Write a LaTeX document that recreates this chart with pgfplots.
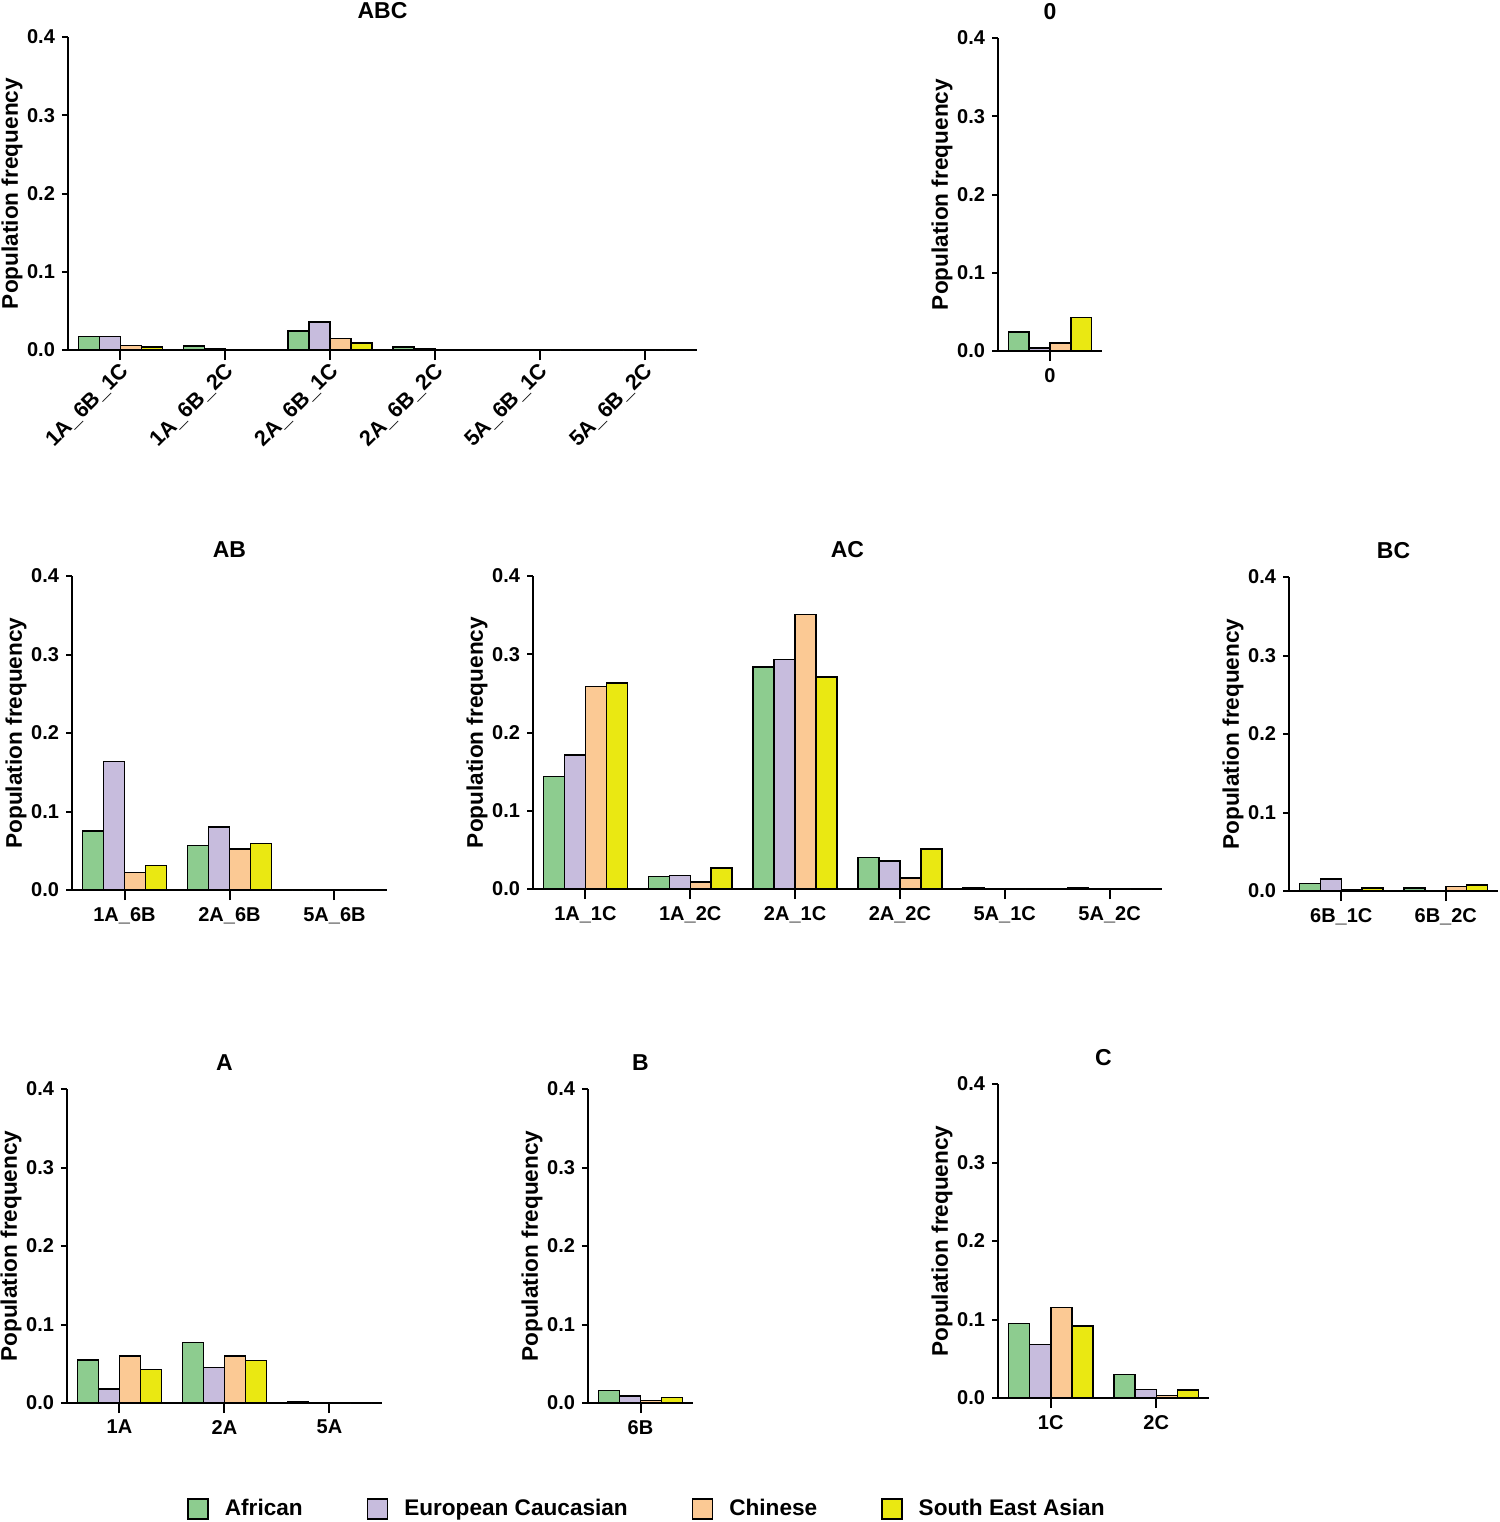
\documentclass[border=0pt]{standalone}
\usepackage{fontspec}
\setmainfont{Liberation Sans}
\usepackage{pgfplots}
\pgfplotsset{compat=1.18}
\definecolor{cAf}{RGB}{141,204,143}
\definecolor{cEu}{RGB}{199,188,221}
\definecolor{cCh}{RGB}{251,201,148}
\definecolor{cSE}{RGB}{234,232,18}
\newcommand\ft{\fontsize{10}{12}\selectfont\bfseries}
\newcommand\fr{\fontsize{10.8}{12}\selectfont\bfseries}
\newcommand\ff{\fontsize{11.3}{13}\selectfont\bfseries}
\newcommand\fti{\fontsize{11.5}{13}\selectfont\bfseries}
\pgfplotsset{
  panel/.style={
    scale only axis,
    ymin=0, ymax=0.4,
    ytick={0,0.1,0.2,0.3,0.4},
    yticklabels={0.0,0.1,0.2,0.3,0.4},
    axis x line*=bottom, axis y line*=left,
    axis line style={line width=1pt, black},
    tick style={line width=1pt, black},
    tick align=outside,
    major tick length=3pt,
    xtick style={/pgfplots/major tick length=5pt},
    ybar, bar width=0.2,
    tick label style={font=\ft},
    xticklabel style={yshift=-2pt},
    ylabel={Population frequency},
    ylabel style={at={(axis description cs:0,0.5)}, anchor=center, yshift=28pt, font=\ff},
    title style={at={(axis description cs:0.5,1)}, anchor=center, yshift=7pt, font=\fti},
    every axis plot/.append style={draw=black, line width=0.75pt},
    xmin=-0.5,
  }
}
\newcommand\fourbars[4]{%
  \addplot[fill=cAf, bar shift=-0.3] coordinates {#1};
  \addplot[fill=cEu, bar shift=-0.1] coordinates {#2};
  \addplot[fill=cCh, bar shift=0.1] coordinates {#3};
  \addplot[fill=cSE, bar shift=0.3] coordinates {#4};
}
\begin{document}
\begin{tikzpicture}
\useasboundingbox (0,0) rectangle (750pt,-761pt);
% ABC
\begin{axis}[panel, at={(34pt,-175pt)}, anchor=south west, width=314.5pt, height=156.5pt,
  xmax=5.5, xtick={0,1,2,3,4,5},
  xticklabels={1A\_6B\_1C,1A\_6B\_2C,2A\_6B\_1C,2A\_6B\_2C,5A\_6B\_1C,5A\_6B\_2C},
  xticklabel style={rotate=45, anchor=east, font=\fr, xshift=2.5pt, yshift=-4.5pt},
  title={ABC}]
\fourbars{(0,0.017)(1,0.005)(2,0.024)(3,0.004)(4,0)(5,0)}
         {(0,0.017)(1,0.001)(2,0.036)(3,0.001)(4,0)(5,0)}
         {(0,0.006)(1,0.0005)(2,0.015)(3,0.0005)(4,0)(5,0)}
         {(0,0.004)(1,0.0005)(2,0.009)(3,0.0005)(4,0)(5,0)}
\end{axis}
% 0
\begin{axis}[panel, at={(499pt,-175.5pt)}, anchor=south west, width=52pt, height=156.5pt,
  xmax=0.5, xtick={0}, xticklabels={0}, title={0}]
\fourbars{(0,0.024)}{(0,0.004)}{(0,0.010)}{(0,0.043)}
\end{axis}
% AB
\begin{axis}[panel, at={(36pt,-445pt)}, anchor=south west, width=157.5pt, height=157pt,
  xmax=2.5, xtick={0,1,2}, xticklabels={1A\_6B,2A\_6B,5A\_6B}, title={AB}]
\fourbars{(0,0.075)(1,0.057)(2,0)}
         {(0,0.164)(1,0.080)(2,0)}
         {(0,0.022)(1,0.052)(2,0)}
         {(0,0.031)(1,0.059)(2,0)}
\end{axis}
% AC
\begin{axis}[panel, at={(266.5pt,-444.5pt)}, anchor=south west, width=314.5pt, height=156.5pt,
  xmax=5.5, xtick={0,1,2,3,4,5},
  xticklabels={1A\_1C,1A\_2C,2A\_1C,2A\_2C,5A\_1C,5A\_2C}, title={AC}]
\fourbars{(0,0.144)(1,0.016)(2,0.284)(3,0.040)(4,0.002)(5,0.002)}
         {(0,0.171)(1,0.017)(2,0.293)(3,0.036)(4,0)(5,0)}
         {(0,0.259)(1,0.009)(2,0.351)(3,0.014)(4,0)(5,0)}
         {(0,0.263)(1,0.027)(2,0.271)(3,0.051)(4,0)(5,0)}
\end{axis}
% BC
\begin{axis}[panel, at={(644.5pt,-445.5pt)}, anchor=south west, width=104.5pt, height=157pt,
  xmax=1.5, xtick={0,1}, xticklabels={6B\_1C,6B\_2C}, title={BC}]
\fourbars{(0,0.0098)(1,0.004)}
         {(0,0.015)(1,0.0005)}
         {(0,0.001)(1,0.006)}
         {(0,0.004)(1,0.0077)}
\end{axis}
% A
\begin{axis}[panel, at={(33.5pt,-701.5pt)}, anchor=south west, width=157.5pt, height=157pt,
  xmax=2.5, xtick={0,1,2}, xticklabels={1A,2A,5A}, title={A}]
\fourbars{(0,0.055)(1,0.077)(2,0.001)}
         {(0,0.018)(1,0.045)(2,0)}
         {(0,0.060)(1,0.060)(2,0)}
         {(0,0.043)(1,0.054)(2,0)}
\end{axis}
% B (carries legend)
\begin{axis}[panel, at={(294pt,-701.5pt)}, anchor=south west, width=52.5pt, height=157pt,
  xmax=0.5, xtick={0}, xticklabels={6B}, title={B},
  legend image code/.code={\draw[#1, line width=0.75pt] (0pt,-5pt) rectangle (10pt,5pt);},
  legend style={at={(axis description cs:0.5,-0.338)}, anchor=center, xshift=3.75pt,
    draw=none, fill=none, legend columns=4, font=\ff,
    /tikz/every odd column/.append style={column sep=6pt},
    /tikz/every even column/.append style={column sep=30pt}}]
\fourbars{(0,0.0157)}{(0,0.009)}{(0,0.0034)}{(0,0.0072)}
\legend{African,European Caucasian,Chinese,South East Asian}
\end{axis}
% C
\begin{axis}[panel, at={(499pt,-699pt)}, anchor=south west, width=105.5pt, height=157pt,
  xmax=1.5, xtick={0,1}, xticklabels={1C,2C}, title={C}]
\fourbars{(0,0.0948)(1,0.030)}
         {(0,0.0684)(1,0.0106)}
         {(0,0.115)(1,0.0034)}
         {(0,0.0918)(1,0.0102)}
\end{axis}
\end{tikzpicture}
\end{document}
